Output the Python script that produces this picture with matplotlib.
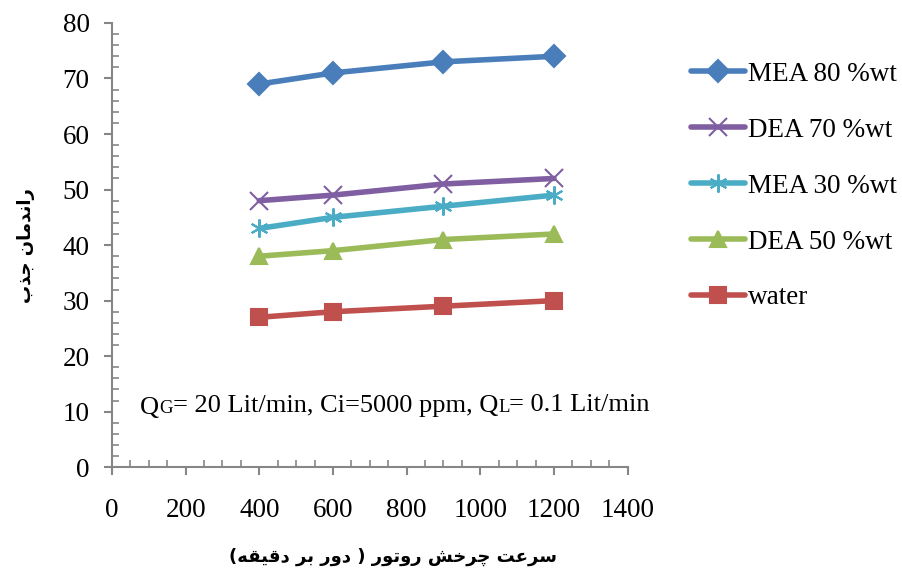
import matplotlib
matplotlib.use("Agg")
import matplotlib.pyplot as plt
from matplotlib.ticker import MultipleLocator

# data
speed = [400, 600, 900, 1200]
mea80 = [69, 71, 73, 74]
dea70 = [48, 49, 51, 52]
mea30 = [43, 45, 47, 49]
dea50 = [38, 39, 41, 42]
water = [27, 28, 29, 30]

labels = ["MEA 80 %wt", "DEA 70 %wt", "MEA 30 %wt", "DEA 50 %wt", "water"]
colors = ["#4A7EBB", "#7F5FA1", "#4BACC6", "#9BBB59", "#C0504D"]

xlabel_fa = "سرعت چرخش روتور ( دور بر دقیقه)"
ylabel_fa = "راندمان جذب"

# arabic presentation forms: isolated, final, initial, medial
FORMS = {
    "ا": ("\uFE8D", "\uFE8E"),
    "د": ("\uFEA9", "\uFEAA"),
    "ذ": ("\uFEAB", "\uFEAC"),
    "ر": ("\uFEAD", "\uFEAE"),
    "و": ("\uFEED", "\uFEEE"),
    "ب": ("\uFE8F", "\uFE90", "\uFE91", "\uFE92"),
    "ت": ("\uFE95", "\uFE96", "\uFE97", "\uFE98"),
    "ج": ("\uFE9D", "\uFE9E", "\uFE9F", "\uFEA0"),
    "چ": ("\uFB7A", "\uFB7B", "\uFB7C", "\uFB7D"),
    "خ": ("\uFEA5", "\uFEA6", "\uFEA7", "\uFEA8"),
    "س": ("\uFEB1", "\uFEB2", "\uFEB3", "\uFEB4"),
    "ش": ("\uFEB5", "\uFEB6", "\uFEB7", "\uFEB8"),
    "ع": ("\uFEC9", "\uFECA", "\uFECB", "\uFECC"),
    "ق": ("\uFED5", "\uFED6", "\uFED7", "\uFED8"),
    "م": ("\uFEE1", "\uFEE2", "\uFEE3", "\uFEE4"),
    "ن": ("\uFEE5", "\uFEE6", "\uFEE7", "\uFEE8"),
    "ه": ("\uFEE9", "\uFEEA", "\uFEEB", "\uFEEC"),
    "ی": ("\uFBFC", "\uFBFD", "\uFBFE", "\uFBFF"),
}


def shape_fa(text):
    out = []
    for i, ch in enumerate(text):
        if ch not in FORMS:
            out.append(ch)
            continue
        prev = text[i - 1] if i > 0 else ""
        nxt = text[i + 1] if i + 1 < len(text) else ""
        join_prev = prev in FORMS and len(FORMS[prev]) == 4
        join_next = nxt in FORMS and len(FORMS[ch]) == 4
        f = FORMS[ch]
        if join_prev and join_next:
            out.append(f[3])
        elif join_prev:
            out.append(f[1])
        elif join_next:
            out.append(f[2])
        else:
            out.append(f[0])
    vis = "".join(reversed(out))
    return vis.translate(str.maketrans("()", ")("))


plt.rcParams["font.family"] = ["Liberation Serif", "DejaVu Sans"]

fig = plt.figure(figsize=(9.03, 5.74), dpi=100)
ax = fig.add_axes([0.124, 0.186, 0.571, 0.774])

series = [mea80, dea70, mea30, dea50, water]
markers = ["D", "x", (6, 2, 0), "^", "s"]
msizes = [11, 13, 13, 12, 11]
for vals, lab, c, m, ms in zip(series, labels, colors, markers, msizes):
    ax.plot(speed, vals, color=c, lw=4, marker=m, ms=ms, mew=1.5,
            mec=c, mfc=c, label=lab, solid_capstyle="round")

ax.set_xlim(0, 1400)
ax.set_ylim(0, 80)
ax.xaxis.set_major_locator(MultipleLocator(200))
ax.xaxis.set_minor_locator(MultipleLocator(50))
ax.yaxis.set_major_locator(MultipleLocator(10))
ax.yaxis.set_minor_locator(MultipleLocator(2))

for s in ["top", "right"]:
    ax.spines[s].set_visible(False)
for s in ["left", "bottom"]:
    ax.spines[s].set_color("#868686")
    ax.spines[s].set_linewidth(1.5)

ax.tick_params(which="major", direction="out", length=6, width=1.5,
               color="#868686", labelsize=19.5, labelcolor="black")
ax.tick_params(which="minor", direction="in", length=5, width=1.2,
               color="#868686")
ax.tick_params(axis="x", which="major", pad=16)
ax.tick_params(axis="y", which="major", pad=10)

ax.set_ylabel(shape_fa(ylabel_fa), family="DejaVu Sans", fontweight="bold",
              fontsize=13, labelpad=20)
fig.text(393 / 903, 1 - 557 / 574, shape_fa(xlabel_fa), family="DejaVu Sans",
         fontweight="bold", fontsize=13, ha="center", va="center")

# condition note, with small-cap G and L
t = ax.text(76, 9.6, "Q", fontsize=19, va="baseline")
parts = [("G", 13.5), ("= 20 Lit/min, Ci=5000 ppm, Q", 19), ("L", 13.5),
         ("= 0.1 Lit/min", 19)]
for txt, size in parts:
    dy = 1.2 if size < 19 else 0
    t = ax.annotate(txt, xy=(1, 0), xycoords=t, xytext=(0, dy),
                    textcoords="offset points", fontsize=size, va="bottom")

fig.legend(loc="upper left", bbox_to_anchor=(0.753, 0.911), frameon=False,
           fontsize=19.5, numpoints=1, handlelength=2.0, handletextpad=0.12,
           labelspacing=1.14, borderaxespad=0)

fig.savefig("out.png", dpi=100)
